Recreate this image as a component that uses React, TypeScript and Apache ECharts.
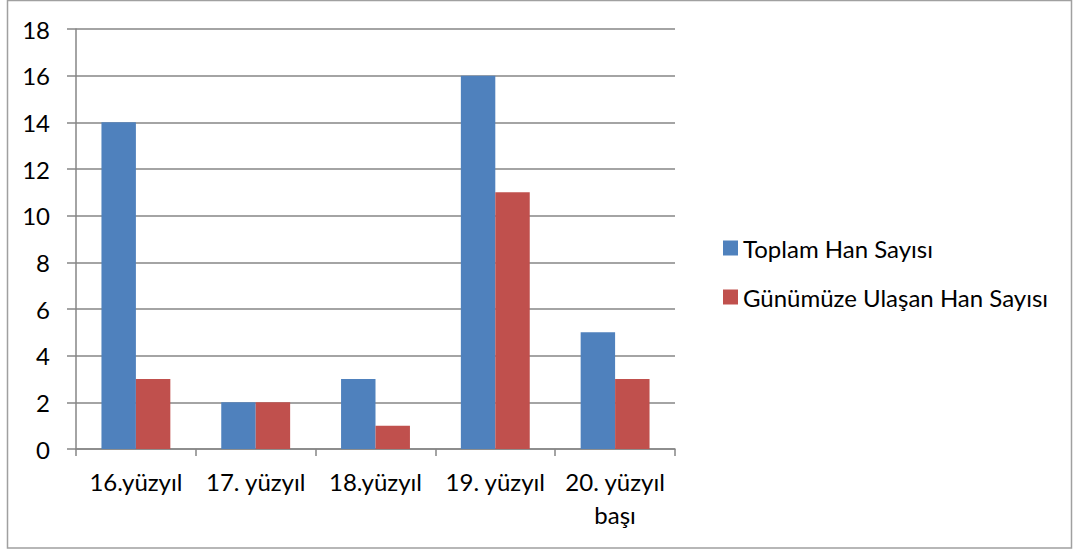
import React, { useEffect, useRef } from "react";
import * as echarts from "echarts";

const categories = ["16.yüzyıl", "17. yüzyıl", "18.yüzyıl", "19. yüzyıl", "20. yüzyıl\nbaşı"];
const seriesNames = ["Toplam Han Sayısı", "Günümüze Ulaşan Han Sayısı"];
const toplam = [14, 2, 3, 16, 5];
const gunumuze = [3, 2, 1, 11, 3];
const colors = ["#4F81BD", "#C0504D"];

const FONT = "Lato, 'Open Sans', sans-serif";
const FS = 24;

export default function App() {
  const ref = useRef<HTMLDivElement>(null);
  useEffect(() => {
    if (!ref.current) return;
    const chart = echarts.init(ref.current, null, { renderer: "svg" });
    chart.setOption({
      animation: false,
      backgroundColor: "#ffffff",
      textStyle: { fontFamily: FONT },
      graphic: [
        {
          type: "rect",
          shape: { x: 7.5, y: 0.5, width: 1064, height: 547.5 },
          style: { fill: "none", stroke: "#a0a0a0", lineWidth: 1.5 },
          silent: true,
        },
      ],
      grid: { left: 76, top: 29, right: 398, bottom: 102, containLabel: false },
      legend: {
        orient: "vertical",
        left: 718,
        top: 231,
        icon: "rect",
        itemWidth: 15,
        itemHeight: 15,
        itemGap: 25,
        itemStyle: { borderWidth: 0 },
        data: seriesNames,
        textStyle: { fontSize: FS, color: "#000", fontFamily: FONT },
      },
      xAxis: {
        type: "category",
        data: categories,
        axisLine: { lineStyle: { color: "#868686", width: 1.5 } },
        axisTick: { show: true, length: 7, lineStyle: { color: "#868686", width: 1.5 } },
        axisLabel: {
          color: "#000",
          fontSize: FS,
          margin: 16,
          lineHeight: 33,
          interval: 0,
          fontFamily: FONT,
        },
      },
      yAxis: {
        type: "value",
        min: 0,
        max: 18,
        interval: 2,
        axisLine: { show: true, lineStyle: { color: "#868686", width: 1.5 } },
        axisTick: { show: true, length: 9, lineStyle: { color: "#868686", width: 1.5 } },
        splitLine: { show: true, lineStyle: { color: "#868686", width: 1.5 } },
        axisLabel: { color: "#000", fontSize: FS, margin: 26, fontFamily: FONT },
      },
      series: [
        {
          name: seriesNames[0],
          type: "bar",
          data: toplam,
          itemStyle: { color: colors[0] },
          barGap: "0%",
          barCategoryGap: "42.5%",
        },
        {
          name: seriesNames[1],
          type: "bar",
          data: gunumuze,
          itemStyle: { color: colors[1] },
          barGap: "0%",
          barCategoryGap: "42.5%",
        },
      ],
    });
    return () => chart.dispose();
  }, []);
  return (
    <div
      ref={ref}
      style={{ position: "fixed", left: 0, top: 0, width: 1073, height: 551 }}
    />
  );
}
